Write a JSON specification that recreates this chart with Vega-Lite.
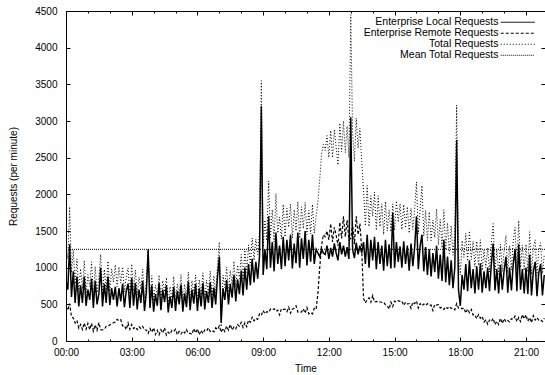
{
"$schema": "https://vega.github.io/schema/vega-lite/v6.json",
"width": 479, "height": 330,
"autosize": {"type": "none"},
"padding": {"left": 66, "top": 11, "right": 0, "bottom": 34},
"config": {
  "font": "Liberation Sans",
  "view": {"stroke": "black", "strokeWidth": 1},
  "axis": {"grid": false, "domain": false, "labelColor": "black", "tickColor": "black", "titleColor": "black", "labelFontSize": 10, "titleFontSize": 10, "titleFontWeight": "normal", "labelFlush": false, "labelOverlap": false, "tickWidth": 1}
},
"datasets": {
  "req": [
{"m":0,"local":830,"remote":470,"total":1300},
{"m":5,"local":700,"remote":420,"total":1120},
{"m":10,"local":1320,"remote":510,"total":1830},
{"m":15,"local":600,"remote":330,"total":930},
{"m":20,"local":950,"remote":315,"total":1240},
{"m":25,"local":520,"remote":245,"total":780},
{"m":30,"local":880,"remote":280,"total":1120},
{"m":35,"local":470,"remote":175,"total":670},
{"m":40,"local":760,"remote":225,"total":985},
{"m":45,"local":520,"remote":155,"total":710},
{"m":50,"local":880,"remote":245,"total":1095},
{"m":55,"local":480,"remote":160,"total":650},
{"m":60,"local":700,"remote":240,"total":905},
{"m":65,"local":560,"remote":155,"total":745},
{"m":70,"local":850,"remote":240,"total":1080},
{"m":75,"local":450,"remote":135,"total":625},
{"m":80,"local":820,"remote":220,"total":1015},
{"m":85,"local":500,"remote":145,"total":660},
{"m":90,"local":640,"remote":250,"total":850},
{"m":95,"local":1000,"remote":155,"total":1180},
{"m":100,"local":470,"remote":150,"total":620},
{"m":105,"local":780,"remote":160,"total":975},
{"m":110,"local":520,"remote":200,"total":690},
{"m":115,"local":880,"remote":200,"total":1090},
{"m":120,"local":490,"remote":220,"total":675},
{"m":125,"local":720,"remote":235,"total":985},
{"m":130,"local":560,"remote":250,"total":800},
{"m":135,"local":740,"remote":260,"total":1040},
{"m":140,"local":470,"remote":295,"total":740},
{"m":145,"local":720,"remote":275,"total":1010},
{"m":150,"local":540,"remote":290,"total":790},
{"m":155,"local":780,"remote":205,"total":1010},
{"m":160,"local":460,"remote":210,"total":670},
{"m":165,"local":680,"remote":155,"total":870},
{"m":170,"local":780,"remote":245,"total":995},
{"m":175,"local":450,"remote":160,"total":620},
{"m":180,"local":860,"remote":225,"total":1050},
{"m":185,"local":480,"remote":170,"total":680},
{"m":190,"local":790,"remote":190,"total":970},
{"m":195,"local":430,"remote":155,"total":625},
{"m":200,"local":700,"remote":195,"total":870},
{"m":205,"local":520,"remote":170,"total":705},
{"m":210,"local":820,"remote":200,"total":980},
{"m":215,"local":410,"remote":150,"total":585},
{"m":220,"local":660,"remote":150,"total":810},
{"m":225,"local":1240,"remote":105,"total":1260},
{"m":230,"local":450,"remote":170,"total":590},
{"m":235,"local":760,"remote":120,"total":890},
{"m":240,"local":400,"remote":180,"total":545},
{"m":245,"local":640,"remote":90,"total":760},
{"m":250,"local":480,"remote":145,"total":615},
{"m":255,"local":790,"remote":85,"total":900},
{"m":260,"local":420,"remote":155,"total":550},
{"m":265,"local":700,"remote":110,"total":825},
{"m":270,"local":530,"remote":180,"total":670},
{"m":275,"local":760,"remote":80,"total":865},
{"m":280,"local":390,"remote":120,"total":510},
{"m":285,"local":610,"remote":95,"total":740},
{"m":290,"local":450,"remote":145,"total":565},
{"m":295,"local":740,"remote":130,"total":880},
{"m":300,"local":410,"remote":160,"total":535},
{"m":305,"local":680,"remote":85,"total":780},
{"m":310,"local":500,"remote":130,"total":620},
{"m":315,"local":770,"remote":95,"total":905},
{"m":320,"local":400,"remote":135,"total":510},
{"m":325,"local":650,"remote":110,"total":775},
{"m":330,"local":460,"remote":155,"total":575},
{"m":335,"local":810,"remote":105,"total":940},
{"m":340,"local":420,"remote":105,"total":525},
{"m":345,"local":700,"remote":90,"total":825},
{"m":350,"local":510,"remote":170,"total":650},
{"m":355,"local":780,"remote":110,"total":900},
{"m":360,"local":410,"remote":165,"total":540},
{"m":365,"local":720,"remote":85,"total":835},
{"m":370,"local":470,"remote":145,"total":605},
{"m":375,"local":790,"remote":100,"total":930},
{"m":380,"local":430,"remote":150,"total":555},
{"m":385,"local":680,"remote":135,"total":830},
{"m":390,"local":520,"remote":180,"total":660},
{"m":395,"local":800,"remote":130,"total":955},
{"m":400,"local":450,"remote":145,"total":595},
{"m":405,"local":730,"remote":125,"total":890},
{"m":410,"local":500,"remote":180,"total":650},
{"m":415,"local":880,"remote":155,"total":1045},
{"m":420,"local":1150,"remote":205,"total":1350},
{"m":425,"local":250,"remote":120,"total":195},
{"m":430,"local":720,"remote":175,"total":900},
{"m":435,"local":560,"remote":130,"total":730},
{"m":440,"local":830,"remote":205,"total":1010},
{"m":445,"local":500,"remote":150,"total":665},
{"m":450,"local":780,"remote":225,"total":965},
{"m":455,"local":590,"remote":150,"total":765},
{"m":460,"local":900,"remote":190,"total":1090},
{"m":465,"local":540,"remote":165,"total":740},
{"m":470,"local":840,"remote":225,"total":1035},
{"m":475,"local":640,"remote":200,"total":850},
{"m":480,"local":960,"remote":255,"total":1180},
{"m":485,"local":620,"remote":185,"total":835},
{"m":490,"local":1000,"remote":250,"total":1240},
{"m":495,"local":700,"remote":195,"total":935},
{"m":500,"local":1050,"remote":285,"total":1310},
{"m":505,"local":760,"remote":255,"total":1030},
{"m":510,"local":1120,"remote":325,"total":1405},
{"m":515,"local":800,"remote":275,"total":1100},
{"m":520,"local":1080,"remote":310,"total":1390},
{"m":525,"local":850,"remote":295,"total":1180},
{"m":530,"local":1150,"remote":370,"total":1490},
{"m":535,"local":3200,"remote":350,"total":3550},
{"m":540,"local":900,"remote":415,"total":1280},
{"m":545,"local":1250,"remote":370,"total":1650},
{"m":550,"local":980,"remote":400,"total":1370},
{"m":555,"local":1700,"remote":390,"total":2180},
{"m":560,"local":1000,"remote":435,"total":1410},
{"m":565,"local":1350,"remote":425,"total":1790},
{"m":570,"local":950,"remote":440,"total":1350},
{"m":575,"local":1480,"remote":405,"total":2010},
{"m":580,"local":1050,"remote":420,"total":1470},
{"m":585,"local":1300,"remote":355,"total":1690},
{"m":590,"local":980,"remote":440,"total":1390},
{"m":595,"local":1420,"remote":430,"total":1860},
{"m":600,"local":1020,"remote":435,"total":1420},
{"m":605,"local":1380,"remote":400,"total":1810},
{"m":610,"local":1100,"remote":460,"total":1550},
{"m":615,"local":1450,"remote":380,"total":1870},
{"m":620,"local":990,"remote":435,"total":1400},
{"m":625,"local":1330,"remote":445,"total":1790},
{"m":630,"local":1060,"remote":480,"total":1500},
{"m":635,"local":1480,"remote":395,"total":1900},
{"m":640,"local":1000,"remote":400,"total":1400},
{"m":645,"local":1400,"remote":395,"total":1830},
{"m":650,"local":1120,"remote":440,"total":1530},
{"m":655,"local":1500,"remote":380,"total":1890},
{"m":660,"local":1030,"remote":455,"total":1450},
{"m":665,"local":1380,"remote":370,"total":1780},
{"m":670,"local":1080,"remote":390,"total":1460},
{"m":675,"local":1450,"remote":370,"total":1860},
{"m":680,"local":1050,"remote":445,"total":1470},
{"m":685,"local":1250,"remote":430,"total":1700},
{"m":690,"local":1200,"remote":650,"total":1900},
{"m":695,"local":1150,"remote":1000,"total":2200},
{"m":700,"local":1250,"remote":1300,"total":2550},
{"m":705,"local":1200,"remote":1450,"total":2680},
{"m":710,"local":1180,"remote":1420,"total":2600},
{"m":715,"local":1300,"remote":1500,"total":2800},
{"m":720,"local":1120,"remote":1380,"total":2500},
{"m":725,"local":1270,"remote":1600,"total":2870},
{"m":730,"local":1150,"remote":1350,"total":2500},
{"m":735,"local":1330,"remote":1550,"total":2880},
{"m":740,"local":1200,"remote":1440,"total":2640},
{"m":745,"local":1100,"remote":1300,"total":2400},
{"m":750,"local":1350,"remote":1620,"total":2970},
{"m":755,"local":1180,"remote":1400,"total":2580},
{"m":760,"local":1300,"remote":1700,"total":3000},
{"m":765,"local":1150,"remote":1420,"total":2570},
{"m":770,"local":1280,"remote":1650,"total":2930},
{"m":775,"local":1120,"remote":1380,"total":2500},
{"m":780,"local":3050,"remote":1400,"total":4450},
{"m":785,"local":1250,"remote":1600,"total":2850},
{"m":790,"local":1130,"remote":1320,"total":2450},
{"m":795,"local":1340,"remote":1700,"total":3040},
{"m":800,"local":1180,"remote":1450,"total":2630},
{"m":805,"local":1300,"remote":1600,"total":2900},
{"m":810,"local":1200,"remote":1250,"total":2450},
{"m":815,"local":1350,"remote":580,"total":2050},
{"m":820,"local":1050,"remote":520,"total":1570},
{"m":825,"local":1450,"remote":565,"total":2120},
{"m":830,"local":1000,"remote":590,"total":1560},
{"m":835,"local":1380,"remote":530,"total":1980},
{"m":840,"local":1100,"remote":620,"total":1700},
{"m":845,"local":1420,"remote":530,"total":2030},
{"m":850,"local":980,"remote":540,"total":1510},
{"m":855,"local":1350,"remote":530,"total":1980},
{"m":860,"local":1050,"remote":535,"total":1560},
{"m":865,"local":1300,"remote":525,"total":1870},
{"m":870,"local":960,"remote":530,"total":1450},
{"m":875,"local":1380,"remote":495,"total":1900},
{"m":880,"local":1020,"remote":480,"total":1500},
{"m":885,"local":1320,"remote":435,"total":1790},
{"m":890,"local":990,"remote":530,"total":1490},
{"m":895,"local":1750,"remote":470,"total":1870},
{"m":900,"local":1000,"remote":545,"total":1510},
{"m":905,"local":1350,"remote":530,"total":1910},
{"m":910,"local":1080,"remote":550,"total":1620},
{"m":915,"local":1290,"remote":540,"total":1870},
{"m":920,"local":1000,"remote":545,"total":1520},
{"m":925,"local":1360,"remote":485,"total":1860},
{"m":930,"local":1050,"remote":530,"total":1540},
{"m":935,"local":1300,"remote":505,"total":1830},
{"m":940,"local":960,"remote":510,"total":1470},
{"m":945,"local":1330,"remote":445,"total":1810},
{"m":950,"local":1020,"remote":530,"total":1520},
{"m":955,"local":1280,"remote":510,"total":1800},
{"m":960,"local":1700,"remote":545,"total":2170},
{"m":965,"local":980,"remote":450,"total":1460},
{"m":970,"local":1300,"remote":510,"total":1800},
{"m":975,"local":1450,"remote":480,"total":2120},
{"m":980,"local":950,"remote":505,"total":1430},
{"m":985,"local":1280,"remote":485,"total":1780},
{"m":990,"local":900,"remote":510,"total":1370},
{"m":995,"local":1250,"remote":485,"total":1760},
{"m":1000,"local":880,"remote":490,"total":1370},
{"m":1005,"local":1200,"remote":415,"total":1650},
{"m":1010,"local":940,"remote":500,"total":1410},
{"m":1015,"local":1300,"remote":490,"total":1800},
{"m":1020,"local":850,"remote":495,"total":1310},
{"m":1025,"local":1180,"remote":450,"total":1660},
{"m":1030,"local":820,"remote":460,"total":1270},
{"m":1035,"local":1380,"remote":430,"total":1790},
{"m":1040,"local":800,"remote":465,"total":1240},
{"m":1045,"local":1150,"remote":445,"total":1610},
{"m":1050,"local":760,"remote":470,"total":1190},
{"m":1055,"local":1100,"remote":445,"total":1570},
{"m":1060,"local":720,"remote":450,"total":1170},
{"m":1065,"local":1000,"remote":425,"total":1460},
{"m":1070,"local":2740,"remote":510,"total":3220},
{"m":1075,"local":700,"remote":450,"total":1160},
{"m":1080,"local":480,"remote":455,"total":900},
{"m":1085,"local":900,"remote":440,"total":1370},
{"m":1090,"local":700,"remote":450,"total":1140},
{"m":1095,"local":1050,"remote":380,"total":1470},
{"m":1100,"local":680,"remote":435,"total":1090},
{"m":1105,"local":1100,"remote":385,"total":1500},
{"m":1110,"local":720,"remote":430,"total":1110},
{"m":1115,"local":980,"remote":355,"total":1360},
{"m":1120,"local":650,"remote":360,"total":1010},
{"m":1125,"local":1020,"remote":305,"total":1360},
{"m":1130,"local":700,"remote":360,"total":1030},
{"m":1135,"local":1060,"remote":310,"total":1380},
{"m":1140,"local":660,"remote":335,"total":960},
{"m":1145,"local":950,"remote":260,"total":1240},
{"m":1150,"local":720,"remote":290,"total":1000},
{"m":1155,"local":1000,"remote":230,"total":1270},
{"m":1160,"local":680,"remote":285,"total":940},
{"m":1165,"local":1050,"remote":265,"total":1330},
{"m":1170,"local":1330,"remote":310,"total":1600},
{"m":1175,"local":690,"remote":225,"total":940},
{"m":1180,"local":980,"remote":270,"total":1250},
{"m":1185,"local":650,"remote":225,"total":910},
{"m":1190,"local":1040,"remote":310,"total":1320},
{"m":1195,"local":700,"remote":240,"total":950},
{"m":1200,"local":960,"remote":305,"total":1230},
{"m":1205,"local":1150,"remote":260,"total":1440},
{"m":1210,"local":660,"remote":280,"total":930},
{"m":1215,"local":1000,"remote":260,"total":1300},
{"m":1220,"local":690,"remote":305,"total":970},
{"m":1225,"local":1050,"remote":295,"total":1360},
{"m":1230,"local":1250,"remote":340,"total":1550},
{"m":1235,"local":680,"remote":265,"total":970},
{"m":1240,"local":1320,"remote":320,"total":1640},
{"m":1245,"local":700,"remote":265,"total":1000},
{"m":1250,"local":980,"remote":360,"total":1310},
{"m":1255,"local":650,"remote":300,"total":960},
{"m":1260,"local":1000,"remote":355,"total":1320},
{"m":1265,"local":640,"remote":270,"total":940},
{"m":1270,"local":1180,"remote":320,"total":1490},
{"m":1275,"local":620,"remote":250,"total":910},
{"m":1280,"local":950,"remote":345,"total":1270},
{"m":1285,"local":1080,"remote":285,"total":1380},
{"m":1290,"local":610,"remote":320,"total":890},
{"m":1295,"local":930,"remote":285,"total":1240},
{"m":1300,"local":1050,"remote":290,"total":1340},
{"m":1305,"local":620,"remote":265,"total":920},
{"m":1310,"local":900,"remote":310,"total":1180}
  ],
  "mean": [{"m": 0, "mean": 1250}, {"m": 1312, "mean": 1250}]
},
"resolve": {"axis": {"x": "independent", "y": "independent"}},
"layer": [
  {
    "data": {"name": "req"},
    "mark": {"type": "line", "color": "black", "strokeWidth": 1.5, "clip": true},
    "encoding": {
      "x": {"field": "m", "type": "quantitative", "scale": {"domain": [0, 1312], "nice": false, "zero": false},
        "axis": {"orient": "bottom", "values": [0,180,360,540,720,900,1080,1260], "labelExpr": "(datum.value<600?'0':'')+floor(datum.value/60)+':00'", "tickSize": -4, "labelPadding": 10, "title": "Time", "titlePadding": 6}},
      "y": {"field": "local", "type": "quantitative", "scale": {"domain": [0, 4500], "nice": false},
        "axis": {"orient": "left", "values": [0,500,1000,1500,2000,2500,3000,3500,4000,4500], "format": "d", "tickSize": -4, "labelPadding": 13, "title": "Requests (per minute)", "titlePadding": 16}},
      "strokeDash": {"datum": "Enterprise Local Requests",
        "scale": {"domain": ["Enterprise Local Requests", "Enterprise Remote Requests", "Total Requests", "Mean Total Requests"], "range": [[1,0],[3,2],[1,2],[1,1]]},
        "legend": {"orient": "none", "legendX": 446.5, "legendY": 6, "title": null, "padding": 0, "labelAlign": "right", "labelOffset": -24.5, "symbolSize": 64, "symbolType": "M-4.25,0H4.25", "symbolStrokeWidth": 1, "symbolStrokeColor": "black", "symbolFillColor": "transparent", "symbolOpacity": 1, "labelFontSize": 10.5, "labelColor": "black", "rowPadding": 0, "labelLimit": 300}}
    }
  },
  {
    "data": {"name": "req"},
    "mark": {"type": "line", "color": "black", "strokeWidth": 1.2, "clip": true},
    "encoding": {
      "x": {"field": "m", "type": "quantitative",
        "axis": {"orient": "top", "values": [0,180,360,540,720,900,1080,1260], "labels": false, "tickSize": -4, "title": null}},
      "y": {"field": "remote", "type": "quantitative",
        "axis": {"orient": "right", "values": [0,500,1000,1500,2000,2500,3000,3500,4000,4500], "labels": false, "tickSize": -4, "title": null}},
      "strokeDash": {"datum": "Enterprise Remote Requests"}
    }
  },
  {
    "data": {"name": "req"},
    "mark": {"type": "line", "color": "black", "strokeWidth": 1, "clip": true},
    "encoding": {
      "x": {"field": "m", "type": "quantitative",
        "axis": {"orient": "bottom", "values": [0,60,120,180,240,300,360,420,480,540,600,660,720,780,840,900,960,1020,1080,1140,1200,1260], "labels": false, "tickSize": -2, "title": null}},
      "y": {"field": "total", "type": "quantitative", "axis": null},
      "strokeDash": {"datum": "Total Requests"}
    }
  },
  {
    "data": {"name": "mean"},
    "mark": {"type": "line", "color": "black", "strokeWidth": 1, "clip": true},
    "encoding": {
      "x": {"field": "m", "type": "quantitative",
        "axis": {"orient": "top", "values": [0,60,120,180,240,300,360,420,480,540,600,660,720,780,840,900,960,1020,1080,1140,1200,1260], "labels": false, "tickSize": -2, "title": null}},
      "y": {"field": "mean", "type": "quantitative", "axis": null},
      "strokeDash": {"datum": "Mean Total Requests"}
    }
  }
]
}
